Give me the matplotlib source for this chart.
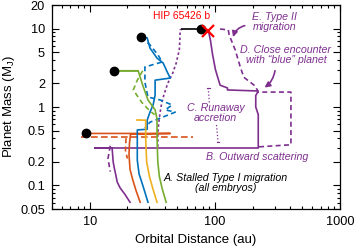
import numpy as np
import matplotlib
matplotlib.use('Agg')
import matplotlib.pyplot as plt
from matplotlib.ticker import FixedLocator, NullFormatter

plt.rcParams['font.family'] = ['Liberation Sans', 'DejaVu Sans']
plt.rcParams['mathtext.fontset'] = 'custom'
plt.rcParams['mathtext.rm'] = 'Liberation Sans'

# colores tipo MATLAB
morado = '#7e2f8e'
naranja = '#d95319'
azul = '#0072bd'
amarillo = '#edb120'
verde = '#77ac30'

# trayectorias (distancia en au, masa en M_J)
morado_a = [21.0, 19.1, 17.5, 16.6, 16.1, 15.8, 15.4, 15.1, 11.0, 222, 222, 212, 212, 222, 126, 126, 110, 101, 96, 92, 88.5]
morado_m = [0.061, 0.077, 0.093, 0.11, 0.14, 0.16, 0.20, 0.30, 0.30, 0.30, 0.8, 1.0, 1.4, 1.6, 1.65, 1.75, 1.9, 3.0, 4.6, 7.2, 9.6]
morado2_a = [110, 128, 130, 145, 159, 170, 210, 222, 405, 405, 222]
morado2_m = [9.9, 9.6, 8.3, 5.4, 3.3, 2.4, 1.85, 1.55, 1.55, 0.33, 0.31]
morado3_a = [55.0, 52.8, 52.5, 52.0, 49.0, 46.0, 42.0, 39.0, 37.5, 36.5, 35.5, 35.0, 35.0]
morado3_m = [9.9, 9.6, 7.2, 5.4, 3.6, 2.7, 2.0, 1.4, 1.1, 0.85, 0.6, 0.45, 0.3]
morado4_a = [14.6, 14.0, 14.6]
morado4_m = [0.32, 0.22, 0.15]

naranja_a = [25.3, 23.5, 22.0, 21.0, 20.6, 20.8, 21.2, 44.0, 9.4]
naranja_m = [0.061, 0.085, 0.12, 0.16, 0.25, 0.35, 0.45, 0.46, 0.46]
naranja2_a = [8.5, 67.0]
naranja2_m = [0.41, 0.41]
naranja3_a = [19.5, 19.3, 20.0]
naranja3_m = [0.40, 0.28, 0.22]

azul_a = [29.2, 27.6, 26.2, 24.8, 24.0, 24.0, 28.8, 28.8, 30.3, 32.1, 33.3, 33.3, 44.0, 41.6, 38.6, 34.5, 30.3, 28.8, 25.8]
azul_m = [0.061, 0.082, 0.107, 0.14, 0.21, 0.51, 0.52, 0.68, 0.86, 1.06, 1.42, 2.2, 2.34, 2.8, 3.64, 4.2, 5.65, 7.6, 7.8]
azul2_a = [25.8, 30.3, 35.2, 37.9, 27.6, 27.6, 29.2, 36.5, 45.6, 40.1, 48.2, 36.5, 30.3, 27.6]
azul2_m = [7.8, 6.2, 4.6, 3.75, 3.24, 2.08, 1.34, 1.23, 1.06, 0.92, 0.86, 0.72, 0.64, 0.54]

amarillo_a = [34.5, 32.0, 30.0, 28.5, 28.0, 28.0, 25.5]
amarillo_m = [0.061, 0.09, 0.13, 0.2, 0.4, 0.68, 0.68]
amarillo2_a = [25.5, 22.5]
amarillo2_m = [0.68, 0.68]

verde_a = [40.8, 38.0, 36.0, 35.0, 34.5, 34.5, 33.3, 29.2, 26.5, 25.3, 24.4, 15.5]
verde_m = [0.061, 0.09, 0.13, 0.2, 0.4, 0.7, 0.92, 1.23, 1.9, 2.4, 2.9, 2.9]
verde2_a = [26.5, 24.0, 22.3, 26.0, 30.0, 33.0]
verde2_m = [2.9, 2.2, 1.65, 1.15, 0.9, 0.8]

# posiciones finales (puntos negros)
final_a = [25.8, 15.5, 9.4, 77.8]
final_m = [7.8, 2.9, 0.46, 9.9]
hip_a, hip_m = 88.5, 9.4

fig = plt.figure(figsize=(3.55, 2.49), dpi=100)
ax = fig.add_axes([0.1465, 0.1606, 0.8115, 0.8193])
lw = 1.2

ax.plot(morado_a, morado_m, color=morado, lw=lw)
ax.plot(morado2_a, morado2_m, color=morado, lw=lw, ls=(0, (3, 2)))
ax.plot(morado3_a, morado3_m, color=morado, lw=lw, ls=(0, (1.5, 1.5)))
ax.plot(morado4_a, morado4_m, color=morado, lw=lw, ls=(0, (3, 2)))
ax.plot(naranja_a, naranja_m, color=naranja, lw=lw)
ax.plot(naranja2_a, naranja2_m, color=naranja, lw=lw, ls=(0, (4, 2)))
ax.plot(naranja3_a, naranja3_m, color=naranja, lw=lw, ls=(0, (3, 2)))
ax.plot(azul_a, azul_m, color=azul, lw=lw)
ax.plot(azul2_a, azul2_m, color=azul, lw=lw, ls=(0, (3, 2)))
ax.plot(amarillo_a, amarillo_m, color=amarillo, lw=lw)
ax.plot(amarillo2_a, amarillo2_m, color=amarillo, lw=lw, ls=(0, (3, 2)))
ax.plot(verde_a, verde_m, color=verde, lw=lw)
ax.plot(verde2_a, verde2_m, color=verde, lw=lw, ls=(0, (3, 2)))

# linea negra hasta la posicion final del planeta morado
ax.plot([55.0, 77.8], [9.9, 9.9], color='black', lw=lw)
ax.plot([15.5, 24.4], [2.9, 2.9], color=verde, lw=lw)
ax.plot(final_a, final_m, 'o', color='black', ms=6, zorder=5)
ax.plot(hip_a, hip_m, 'x', color='red', ms=8, mew=1.6, zorder=6)

ax.set_xscale('log')
ax.set_yscale('log')
ax.set_xlim(5, 1000)
ax.set_ylim(0.05, 20)

ax.set_xticks([10, 100, 1000])
ax.set_xticklabels(['10', '100', '1000'])
yt = [0.05, 0.1, 0.2, 0.5, 1, 2, 5, 10, 20]
ax.set_yticks(yt)
ax.set_yticklabels(['0.05', '0.1', '0.2', '0.5', '1', '2', '5', '10', '20'])
xmin = [k * 10.0**d for d in range(0, 3) for k in range(2, 10) if 5 <= k * 10.0**d <= 1000]
ymin = [k * 10.0**d for d in range(-2, 2) for k in range(2, 10)
        if 0.05 <= k * 10.0**d <= 20 and not any(abs(k * 10.0**d - v) < 1e-9 for v in yt)]
ax.xaxis.set_minor_locator(FixedLocator(xmin))
ax.yaxis.set_minor_locator(FixedLocator(ymin))
ax.xaxis.set_minor_formatter(NullFormatter())
ax.yaxis.set_minor_formatter(NullFormatter())
ax.tick_params(which='both', direction='in', top=True, right=True, labelsize=9.2, width=0.8)
ax.tick_params(which='major', length=5, pad=5)
ax.tick_params(which='minor', length=2.5)
for s in ax.spines.values():
    s.set_linewidth(0.9)

ax.set_xlabel('Orbital Distance (au)', fontsize=9.5, labelpad=4)
ax.set_ylabel(r'Planet Mass (M$_\mathregular{J}$)', fontsize=9.5, labelpad=2)

# textos
fs = 7.7
ax.text(54, 14.4, 'HIP 65426 b', color='red', fontsize=7.4, ha='center', va='center')
ax.text(298, 12.1, 'E. Type II\nmigration', color=morado, fontsize=fs, style='italic',
        ha='center', va='center', linespacing=1.0)
ax.text(369, 4.6, 'D. Close encounter\nwith \u201cblue\u201d planet', color=morado, fontsize=fs,
        style='italic', ha='center', va='center', linespacing=1.0)
ax.text(101, 0.84, 'C. Runaway\naccretion', color=morado, fontsize=fs, style='italic',
        ha='center', va='center', linespacing=1.0)
ax.text(216, 0.23, 'B. Outward scattering', color=morado, fontsize=fs, style='italic',
        ha='center', va='center')
ax.text(122, 0.107, 'A. Stalled Type I migration\n(all embryos)', color='black', fontsize=fs,
        style='italic', ha='center', va='center', linespacing=1.0)

# flechas
ax.annotate('', xy=(138, 7.2), xytext=(182, 11.1),
            arrowprops=dict(arrowstyle='-|>', color=morado, lw=1.2,
                            connectionstyle='arc3,rad=0.35', mutation_scale=8))
ax.annotate('', xy=(239, 1.69), xytext=(304, 3.15),
            arrowprops=dict(arrowstyle='-|>', color=morado, lw=1.2,
                            connectionstyle='arc3,rad=-0.25', mutation_scale=8))
ax.plot([88.5, 90.5], [1.75, 1.08], color=morado, lw=0.9, ls=':')
ax.plot([103, 106], [0.59, 0.36], color=morado, lw=0.9, ls=':')
ax.plot([86, 91], [1.75, 1.75], color=morado, lw=0.8)
ax.plot([103.5, 108.5], [0.36, 0.36], color=morado, lw=0.8)

plt.savefig('out.png', dpi=100)
plt.close()
